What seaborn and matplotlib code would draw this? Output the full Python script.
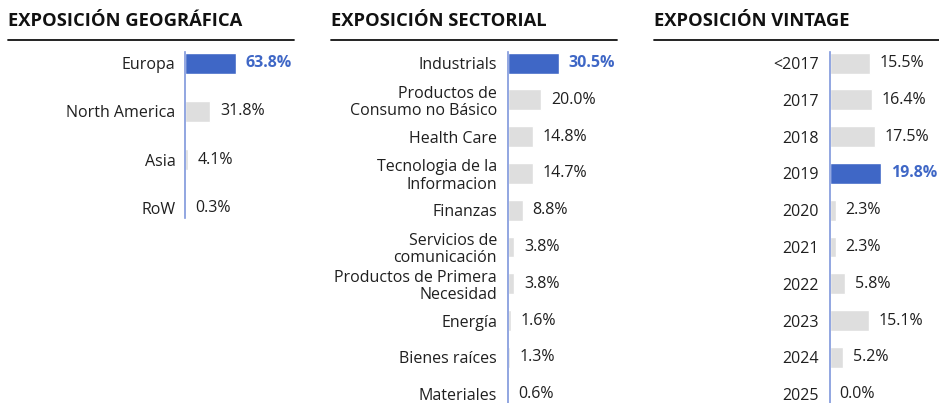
import matplotlib
matplotlib.use("Agg")
import matplotlib.pyplot as plt
from matplotlib.lines import Line2D
import seaborn as sns

# data
geo_labels = ["Europa", "North America", "Asia", "RoW"]
geo_values = [63.8, 31.8, 4.1, 0.3]

sector_labels = ["Industrials", "Productos de\nConsumo no Básico", "Health Care",
                 "Tecnologia de la\nInformacion", "Finanzas", "Servicios de\ncomunicación",
                 "Productos de Primera\nNecesidad", "Energía", "Bienes raíces", "Materiales"]
sector_values = [30.5, 20.0, 14.8, 14.7, 8.8, 3.8, 3.8, 1.6, 1.3, 0.6]

vintage_labels = ["<2017", "2017", "2018", "2019", "2020", "2021", "2022", "2023", "2024", "2025"]
vintage_values = [15.5, 16.4, 17.5, 19.8, 2.3, 2.3, 5.8, 15.1, 5.2, 0.0]

titles = ["EXPOSICIÓN GEOGRÁFICA", "EXPOSICIÓN SECTORIAL", "EXPOSICIÓN VINTAGE"]

BLUE = "#3f67c6"
GREY = "#dedede"
TEXT = "#1f1f1f"
AXIS_LINE = "#7f97dc"
FS = 11.5

sns.set_style("white")
plt.rcParams["font.family"] = ["Open Sans", "DejaVu Sans"]

W, H = 939, 403
fig = plt.figure(figsize=(W / 100, H / 100), dpi=100)


def px_axes(left, top, right, bottom):
    return fig.add_axes([left / W, 1 - bottom / H, (right - left) / W, (bottom - top) / H])


def draw_panel(ax, labels, values, bar_w, ylim, max_px, width_px, pad):
    hl = ["hi" if v == max(values) else "lo" for v in values]
    sns.barplot(x=values, y=labels, hue=hl, palette={"hi": BLUE, "lo": GREY},
                legend=False, width=bar_w, orient="h", ax=ax, saturation=1)
    # largest bar gets ~51 px in every panel
    ax.set_xlim(0, max(values) * width_px / max_px)
    ax.set_ylim(*ylim)
    ax.set_xlabel("")
    ax.set_ylabel("")
    ax.set_xticks([])
    ax.tick_params(axis="y", length=0, pad=pad, labelsize=FS, labelcolor=TEXT)
    for lab in ax.get_yticklabels():
        lab.set_horizontalalignment("right")
        lab.set_linespacing(1.1)
    for s in ["top", "right", "bottom"]:
        ax.spines[s].set_visible(False)
    ax.spines["left"].set_color(AXIS_LINE)
    ax.spines["left"].set_linewidth(1.2)
    for cont in ax.containers:
        txts = ax.bar_label(cont, labels=[f"{v:.1f}%" for v in cont.datavalues],
                            padding=7, fontsize=FS, color=TEXT)
        for t, v in zip(txts, cont.datavalues):
            if v == max(values):
                t.set_color(BLUE)
                t.set_fontweight("bold")


ax1 = px_axes(185, 52, 295, 218)
draw_panel(ax1, geo_labels, geo_values, 0.435, (3.21, -0.228), 51, 110, 7)

ax2 = px_axes(508, 52, 618, 403)
draw_panel(ax2, sector_labels, sector_values, 0.57, (9.24, -0.3), 51, 110, 8)

ax3 = px_axes(830, 52, 939, 403)
draw_panel(ax3, vintage_labels, vintage_values, 0.57, (9.24, -0.3), 51, 109, 8)

# panel titles with rule underneath
for title, x0, x1 in zip(titles, [8, 331, 654], [294, 617, 939]):
    fig.text(x0 / W, 1 - 21 / H, title, fontsize=13.2, fontweight="bold",
             color="#111111", va="center", ha="left")
    fig.add_artist(Line2D([x0 / W, x1 / W], [1 - 40 / H, 1 - 40 / H],
                          color="#111111", lw=1.3, transform=fig.transFigure))

fig.savefig("out.png", dpi=100)
